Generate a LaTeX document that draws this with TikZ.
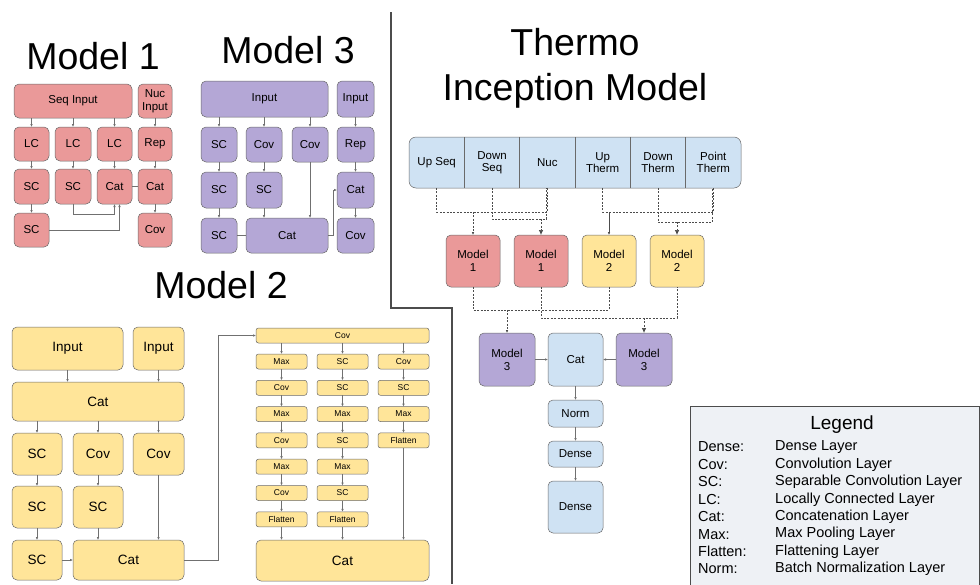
\documentclass[tikz,border=0pt]{standalone}
\usepackage{fontspec}
\setmainfont{Liberation Sans}
\usetikzlibrary{arrows.meta,calc}
\definecolor{pinkf}{HTML}{EA9999}
\definecolor{purpf}{HTML}{B4A7D6}
\definecolor{yelf}{HTML}{FFE599}
\definecolor{bluef}{HTML}{CFE2F3}
\definecolor{legf}{HTML}{EEF1F5}
\definecolor{bordc}{HTML}{6A6A6A}
\definecolor{linec}{HTML}{707070}
\newcommand{\bxn}[7]{\node[#6, minimum width={#4pt-#2pt}, minimum height={#5pt-#3pt}] (#1) at ({(#2+#4)/2},{(#3+#5)/2}) {#7};}
\tikzset{
  box/.style={draw=bordc, line width=0.5pt, rounded corners=5pt, inner sep=0pt, outer sep=0pt, align=center, font=\fontsize{11.5}{13}\selectfont},
  pbox/.style={box, fill=pinkf},
  ubox/.style={box, fill=purpf},
  ybox/.style={box, fill=yelf},
  bbox/.style={box, fill=bluef},
  ysmall/.style={ybox, rounded corners=2.5pt, font=\fontsize{8.5}{10}\selectfont},
  ymid/.style={ybox, font=\fontsize{13.5}{15}\selectfont},
  cell/.style={inner sep=0pt, outer sep=0pt, align=center, font=\fontsize{11.5}{12.5}\selectfont},
  conn/.style={draw=linec, line width=0.6pt},
  arr/.style={conn, -{Latex[length=3pt,width=2.6pt]}},
  dsh/.style={draw=black!70, line width=0.7pt, dash pattern=on 2pt off 1.4pt},
  darr/.style={dsh, -{Latex[length=3pt,width=2.6pt]}},
  dbig/.style={dsh, -{Latex[length=5pt,width=4.5pt]}},
  divider/.style={draw=black!70, line width=1.1pt},
  titletext/.style={inner sep=0pt, font=\fontsize{37.5}{40}\selectfont, anchor=base},
  legtext/.style={inner sep=0pt, anchor=west, font=\fontsize{14.5}{16}\selectfont},
}
\begin{document}
\begin{tikzpicture}[x=1pt,y=-1pt]
\useasboundingbox (0,0) rectangle (980,584);
\fill[white] (0,0) rectangle (980,584);
% dividers
\draw[divider] (391,12) -- (391,308) -- (452,308) -- (452,584);
% titles
\node[titletext] (tm1) at (93,69) {Model 1};
\node[titletext] (tm3) at (288,63) {Model 3};
\node[titletext] (tm2) at (221,298) {Model 2};
\node[titletext] (tth1) at (575,55) {Thermo};
\node[titletext] (tth2) at (575,100) {Inception Model};

% ---------------- Model 1
\bxn{mi}{14}{84}{132}{118}{pbox}{Seq Input}
\bxn{mnuc}{138}{84}{172}{118}{pbox}{Nuc\\Input}
\bxn{mlc1}{14}{127}{49}{161}{pbox}{LC}
\bxn{mlc2}{55}{127}{91}{161}{pbox}{LC}
\bxn{mlc3}{97}{127}{132}{161}{pbox}{LC}
\bxn{mrep}{138}{127}{172}{161}{pbox}{Rep}
\bxn{msc1}{14}{169}{49}{204}{pbox}{SC}
\bxn{msc2}{55}{169}{91}{204}{pbox}{SC}
\bxn{mcat}{97}{169}{132}{204}{pbox}{Cat}
\bxn{mcatb}{138}{169}{172}{204}{pbox}{Cat}
\bxn{msc3}{14}{213}{49}{247}{pbox}{SC}
\bxn{mcov}{138}{213}{172}{247}{pbox}{Cov}
\foreach \n in {mlc1,mlc2,mlc3} \draw[arr] (\n.north |- mi.south) -- (\n.north);
\draw[arr] (mlc1) -- (msc1);
\draw[arr] (mlc2) -- (msc2);
\draw[arr] (mlc3) -- (mcat);
\draw[arr] (msc1) -- (msc3);
\draw[arr] (mnuc) -- (mrep);
\draw[arr] (mrep) -- (mcatb);
\draw[arr] (mcatb) -- (mcov);
\draw[conn] (mcat) -- (mcatb);
\draw[arr] (msc2.south) -- ++(0,10) -| ([xshift=0pt]mcat.south);
\draw[arr] (msc3.east) -| ([xshift=5pt]mcat.south);

% ---------------- Model 3
\bxn{ni}{201}{81}{328}{117}{ubox}{Input}
\bxn{ni2}{337}{81}{374}{117}{ubox}{Input}
\bxn{nsc1}{201}{127}{237}{162}{ubox}{SC}
\bxn{ncov1}{246}{127}{282}{162}{ubox}{Cov}
\bxn{ncov2}{292}{127}{328}{162}{ubox}{Cov}
\bxn{nrep}{337}{127}{374}{162}{ubox}{Rep}
\bxn{nsc2}{201}{172}{237}{208}{ubox}{SC}
\bxn{nsc3}{246}{172}{282}{208}{ubox}{SC}
\bxn{ncatb}{337}{172}{374}{208}{ubox}{Cat}
\bxn{nsc4}{201}{218}{237}{253}{ubox}{SC}
\bxn{ncat}{246}{218}{328}{253}{ubox}{Cat}
\bxn{ncov3}{337}{218}{374}{253}{ubox}{Cov}
\foreach \n in {nsc1,ncov1,ncov2} \draw[arr] (\n.north |- ni.south) -- (\n.north);
\draw[arr] (nsc1) -- (nsc2);
\draw[arr] (nsc2) -- (nsc4);
\draw[arr] (ncov1) -- (nsc3);
\draw[arr] (nsc3.south) -- (nsc3.south |- ncat.north);
\draw[arr] (ncov2.south) -- (ncov2.south |- ncat.north);
\draw[conn] (nsc4) -- (ncat);
\draw[arr] (ni2) -- (nrep);
\draw[arr] (nrep) -- (ncatb);
\draw[arr] (ncatb) -- (ncov3);
\draw[arr] (ncat.east) -- ++(5,0) |- (ncatb.west);

% ---------------- Model 2 (left)
\bxn{pi1}{12}{327}{123}{370}{ymid}{Input}
\bxn{pi2}{133}{327}{184}{370}{ymid}{Input}
\bxn{pcat1}{12}{382}{184}{421}{ymid}{Cat}
\bxn{psc1}{12}{433}{62}{475}{ymid}{SC}
\bxn{pcov1}{73}{433}{123}{475}{ymid}{Cov}
\bxn{pcov2}{133}{433}{184}{475}{ymid}{Cov}
\bxn{psc2}{12}{486}{62}{528}{ymid}{SC}
\bxn{psc3}{73}{486}{123}{528}{ymid}{SC}
\bxn{psc4}{12}{540}{62}{580}{ymid}{SC}
\bxn{pcat2}{73}{540}{184}{580}{ymid}{Cat}
\draw[arr] (pi1.south) -- (pi1.south |- pcat1.north);
\draw[arr] (pi2.south) -- (pi2.south |- pcat1.north);
\foreach \n in {psc1,pcov1,pcov2} \draw[arr] (\n.north |- pcat1.south) -- (\n.north);
\draw[arr] (psc1) -- (psc2);
\draw[arr] (psc2) -- (psc4);
\draw[arr] (pcov1) -- (psc3);
\draw[arr] (psc3.south) -- (psc3.south |- pcat2.north);
\draw[arr] (pcov2.south) -- (pcov2.south |- pcat2.north);
\draw[arr] (psc4) -- (pcat2);

% ---------------- Model 2 (right)
\bxn{qtop}{256}{328}{429}{343}{ysmall}{Cov}
\foreach \lab [count=\i] in {Max,Cov,Max,Cov,Max,Cov,Flatten} {
  \pgfmathsetmacro\ya{354+26.3*(\i-1)}
  \pgfmathsetmacro\yb{\ya+15}
  \bxn{qa\i}{256}{\ya}{307}{\yb}{ysmall}{\lab}
}
\foreach \lab [count=\i] in {SC,SC,Max,SC,Max,SC,Flatten} {
  \pgfmathsetmacro\ya{354+26.3*(\i-1)}
  \pgfmathsetmacro\yb{\ya+15}
  \bxn{qb\i}{317}{\ya}{368}{\yb}{ysmall}{\lab}
}
\foreach \lab [count=\i] in {Cov,SC,Max,Flatten} {
  \pgfmathsetmacro\ya{354+26.3*(\i-1)}
  \pgfmathsetmacro\yb{\ya+15}
  \bxn{qc\i}{378}{\ya}{429}{\yb}{ysmall}{\lab}
}
\bxn{qcat}{256}{540}{429}{581}{ymid}{Cat}
\foreach \n in {qa1,qb1,qc1} \draw[arr] (\n.north |- qtop.south) -- (\n.north);
\foreach \i [evaluate=\i as \j using int(\i+1)] in {1,...,6} {
  \draw[arr] (qa\i) -- (qa\j);
  \draw[arr] (qb\i) -- (qb\j);
}
\foreach \i [evaluate=\i as \j using int(\i+1)] in {1,...,3} \draw[arr] (qc\i) -- (qc\j);
\draw[arr] (qa7.south) -- (qa7.south |- qcat.north);
\draw[arr] (qb7.south) -- (qb7.south |- qcat.north);
\draw[arr] (qc4.south) -- (qc4.south |- qcat.north);
\draw[arr] (pcat2.east) -- ++(34,0) |- (qtop.west);

% ---------------- Thermo Inception Model
\bxn{bar}{409}{137}{741}{188}{bbox, rounded corners=7pt}{}
\foreach \lab [count=\i] in {Up Seq,{Down\\Seq},Nuc,{Up\\Therm},{Down\\Therm},{Point\\Therm}} {
  \pgfmathsetmacro\xa{409+55.333*(\i-1)}
  \pgfmathsetmacro\xb{\xa+55.333}
  \bxn{t\i}{\xa}{137}{\xb}{188}{cell}{\lab}
}
\foreach \i in {1,...,5} \draw[draw=bordc, line width=0.5pt] (t\i.north east) -- (t\i.south east);
\bxn{ma}{446}{235}{500}{287}{pbox}{Model\\1}
\bxn{mb}{514}{235}{568}{287}{pbox}{Model\\1}
\bxn{mc}{582}{235}{636}{287}{ybox}{Model\\2}
\bxn{md}{650}{235}{704}{287}{ybox}{Model\\2}
\bxn{ra}{479}{333}{535}{386}{ubox}{Model\\3}
\bxn{tcat}{548}{333}{603}{386}{bbox}{Cat}
\bxn{rb}{616}{333}{672}{386}{ubox}{Model\\3}
\bxn{norm}{548}{400}{603}{427}{bbox}{Norm}
\bxn{den1}{548}{441}{603}{467}{bbox}{Dense}
\bxn{den2}{548}{481}{603}{533}{bbox}{Dense}
% dashed input routing
\draw[dsh] (t1.south) -- ++(0,24) -| (t3.south);
\draw[dsh] (t2.south) -- ++(0,31) -| ([xshift=-1pt]t3.south);
\draw[darr] ($(ma.north)+(0,-23)$) -- (ma.north);
\draw[dbig] ($(mb.north)+(0,-16)$) -- (mb.north);
\draw[dsh] (t4.south) -- ++(0,24) -| (t6.south);
\draw[dsh] (t5.south) -- ++(0,34) -| ([xshift=-1pt]t6.south);
\draw[arr, draw=black!70] ($(mc.north)+(0,-23)$) -- (mc.north);
\draw[dbig] ($(md.north)+(0,-13)$) -- (md.north);
% dashed model routing
\draw[dsh] (ma.south) -- ++(0,23) -| (mc.south);
\draw[dsh] (mb.south) -- ++(0,31) -| (md.south);
\draw[darr] ($(ra.north)+(0,-23)$) -- (ra.north);
\draw[dbig] ($(rb.north)+(0,-15)$) -- (rb.north);
% solid tail
\draw[arr] (ra) -- (tcat);
\draw[arr] (rb) -- (tcat);
\draw[arr] (tcat) -- (norm);
\draw[arr] (norm) -- (den1);
\draw[arr] (den1) -- (den2);

% ---------------- Legend
\draw[draw=black!70, line width=0.8pt, fill=legf] (690,406) rectangle (979,592);
\node[inner sep=0pt, font=\fontsize{19}{21}\selectfont] (legt) at (842,425) {Legend};
\foreach \k/\v [count=\i] in {Dense:/Dense Layer, Cov:/Convolution Layer, SC:/Separable Convolution Layer, LC:/Locally Connected Layer, Cat:/Concatenation Layer, Max:/Max Pooling Layer, Flatten:/Flattening Layer, Norm:/Batch Normalization Layer} {
  \pgfmathsetmacro\yy{447+17.43*(\i-1)}
  \node[legtext] (lk\i) at (698,\yy) {\k};
  \node[legtext] (lv\i) at (775,\yy) {\v};
}
\end{tikzpicture}
\end{document}
